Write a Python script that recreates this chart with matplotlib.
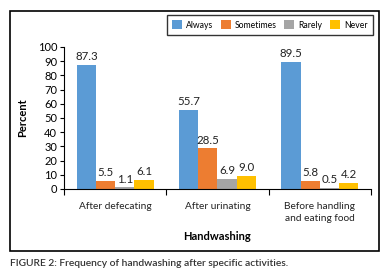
import numpy as np
import matplotlib.pyplot as plt
from matplotlib.patches import Rectangle

plt.rcParams['font.family'] = ['Lato', 'DejaVu Sans']

# Data
categories = ["After defecating", "After urinating", "Before handling\nand eating food"]
series = ["Always", "Sometimes", "Rarely", "Never"]
always = [87.3, 55.7, 89.5]
sometimes = [5.5, 28.5, 5.8]
rarely = [1.1, 6.9, 0.5]
never = [6.1, 9.0, 4.2]
colors = ["#5B9BD5", "#ED7D31", "#A5A5A5", "#FFC000"]

values = [always, sometimes, rarely, never]

fig = plt.figure(figsize=(3.88, 2.73), dpi=100)
ax = fig.add_axes([0.165, 0.308, 0.791, 0.520])

x = np.arange(len(categories))
w = 0.1875
for i, (name, vals) in enumerate(zip(series, values)):
    pos = x + (i - 1.5) * w
    bars = ax.bar(pos, vals, width=w, color=colors[i], label=name)
    for b, v in zip(bars, vals):
        ax.text(b.get_x() + b.get_width() / 2, v + 2, f"{v:.1f}",
                ha="center", va="bottom", fontsize=8.3, color="#222222")

ax.set_xlim(-0.5, 2.5)
ax.set_ylim(0, 100)
ax.set_yticks(np.arange(0, 101, 10))
ax.tick_params(axis="y", labelsize=8, length=3, width=0.8, pad=2)
ax.set_xticks([-0.5, 0.5, 1.5, 2.5])
ax.set_xticklabels([])
ax.tick_params(axis="x", length=4, width=0.8)
for xi, c in zip(x, categories):
    ax.text(xi, -9, c, ha="center", va="top", fontsize=7.3, color="#222222",
            linespacing=1.5)

for s in ["top", "right"]:
    ax.spines[s].set_visible(False)
ax.spines["left"].set_linewidth(0.8)
ax.spines["bottom"].set_linewidth(0.8)

fig.text(0.059, 0.568, "Percent", rotation=90, ha="center", va="center",
         fontsize=8, fontweight="bold")
fig.text(0.56, 0.132, "Handwashing", ha="center", va="center",
         fontsize=8, fontweight="bold")
fig.text(0.026, 0.033, "FIGURE 2: Frequency of handwashing after specific activities.",
         ha="left", va="center", fontsize=7.4, fontweight="semibold", color="#333333")

fig.patches.append(Rectangle((0.026, 0.081), 0.951, 0.879, transform=fig.transFigure,
                             fill=False, edgecolor="black", linewidth=1.2))

leg = fig.legend(loc="upper right", bbox_to_anchor=(0.961, 0.945), ncol=4,
                 fontsize=6.2, frameon=True, fancybox=False, edgecolor="black",
                 handlelength=1.2, handleheight=1.2, handletextpad=0.5,
                 columnspacing=0.8, borderpad=0.6, borderaxespad=0)
leg.get_frame().set_linewidth(1.0)

fig.savefig("out.png", dpi=100)
